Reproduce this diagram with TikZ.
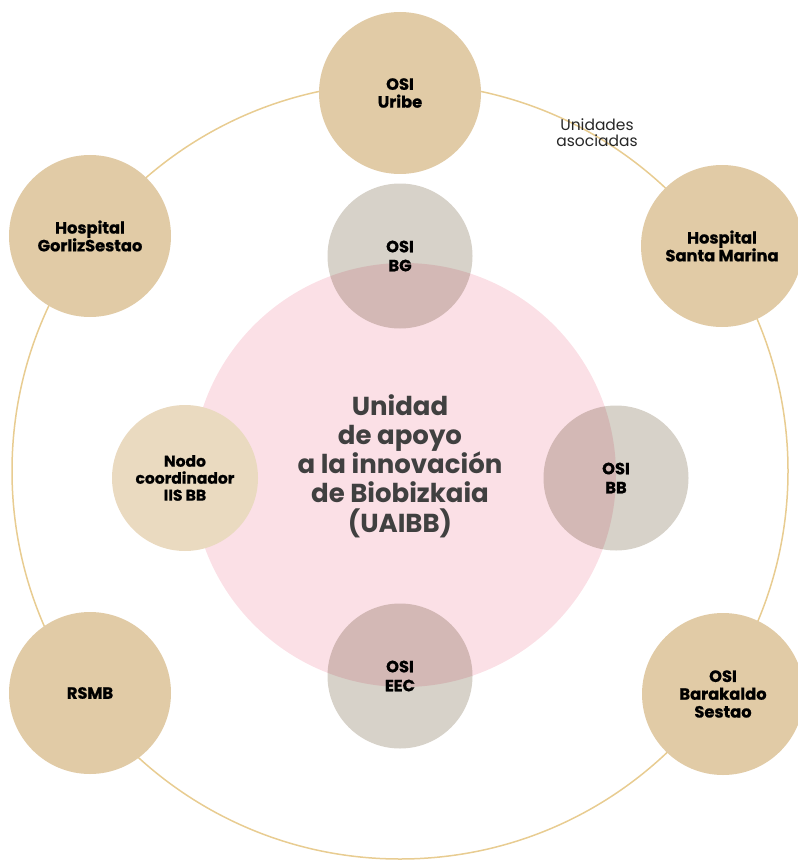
\documentclass[tikz,border=0pt]{standalone}
\usepackage{fontspec}
\setmainfont{Poppins}
\newfontfamily\unitfont{Poppins}[BoldFeatures={FakeBold=0.8}]
\usepackage{tikz}
\usepackage{xcolor}
\definecolor{ringGold}{HTML}{E8CC91}
\definecolor{unitBeige}{HTML}{E1CBA6}
\definecolor{nodoBeige}{HTML}{EADAC0}
\definecolor{uaiPink}{HTML}{FBE0E6}
\definecolor{osiGray}{HTML}{D7D2C9}
\definecolor{uaiText}{HTML}{404040}

\begin{document}
\begin{tikzpicture}[x=1pt,y=-1pt,
  unit/.style={circle, fill=unitBeige, minimum size=162pt, inner sep=0pt, align=center,
    font={\unitfont\fontsize{16.3}{17.8}\selectfont\bfseries}, text=black},
  osi/.style={circle, fill=osiGray, minimum size=145pt, inner sep=0pt, align=center,
    font={\unitfont\fontsize{16.3}{19}\selectfont\bfseries}, text=black},
  hub/.style={circle, fill=uaiPink, minimum size=424pt, inner sep=0pt}]
\useasboundingbox (0,0) rectangle (797,861);
% anillo de unidades asociadas
\draw[ringGold, line width=1.5pt] (400,471) circle[radius=388pt];
\node[font={\fontsize{15.5}{16}\selectfont}, text=black!85, align=center] (asoc) at (597,133) {Unidades\\asociadas};
% unidades exteriores
\node[unit] (uribe) at (400,93) {OSI\\Uribe};
\node[unit] (stamarina) at (722,246) {Hospital\\Santa Marina};
\node[unit] (barakaldo) at (723,694) {OSI\\Barakaldo\\Sestao};
\node[unit] (rsmb) at (90,693) {RSMB};
\node[unit] (gorliz) at (90,236) {Hospital\\GorlizSestao};
% unidad central
\node[hub] (uaibb) at (404,475) {};
\node[circle, fill=nodoBeige, minimum size=146pt, inner sep=0pt, align=center,
  font={\unitfont\fontsize{15.5}{17}\selectfont\bfseries}] (nodo) at (185,478) {Nodo\\coordinador\\IIS BB};
\begin{scope}[blend mode=multiply]
\node[osi] (osibg) at (400,256) {OSI\\BG};
\node[osi] (osibb) at (616,478) {OSI\\BB};
\node[osi] (osieec) at (400,676) {OSI\\EEC};
\end{scope}
\node[font={\fontsize{26}{29.2}\selectfont\bfseries}, text=uaiText, align=center] (uailabel) at (400,466) {Unidad\\de apoyo\\a la innovación\\de Biobizkaia\\(UAIBB)};
\end{tikzpicture}
\end{document}
